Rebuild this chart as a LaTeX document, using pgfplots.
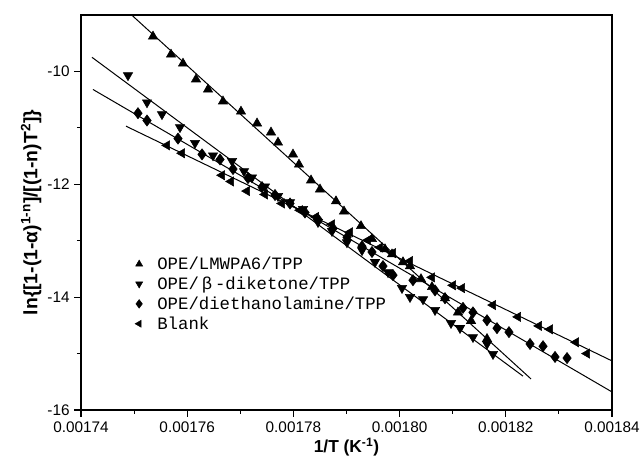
\documentclass[border=0pt]{standalone}
\usepackage{fontspec}
\setmainfont{Liberation Sans}
\newfontfamily\legfont{Liberation Mono}
\usepackage{pgfplots}
\pgfplotsset{compat=1.18}

\begin{document}
\begin{tikzpicture}
\begin{axis}[
    name=ax,
    scale only axis,
    width=398.25pt, height=296.25pt,
    xmin=0.00174, xmax=0.00184,
    ymin=-16, ymax=-9,
    xtick={0.00174,0.00176,0.00178,0.00180,0.00182,0.00184},
    ytick={-16,-14,-12,-10},
    minor x tick num=1,
    minor y tick num=1,
    scaled x ticks=false,
    xticklabel style={/pgf/number format/.cd, fixed, fixed zerofill, precision=5, assume math mode=true},
    yticklabel style={/pgf/number format/assume math mode=true},
    tick label style={font=\fontsize{11.5}{13}\selectfont},
    tick align=outside,
    xtick pos=bottom, ytick pos=left,
    major tick length=5pt, minor tick length=3pt,
    axis line style={line width=0.8pt},
    every tick/.style={black, line width=0.8pt},
    xlabel={\textbf{1/T (K\textsuperscript{-1})}},
    ylabel={\textbf{ln\{[1-(1-α)\textsuperscript{1-n}]/[(1-n)T\textsuperscript{2}]\}}},
    xlabel style={font=\fontsize{13}{15}\selectfont, at={(axis description cs:0.5,-0.094)}, anchor=center},
    ylabel style={font=\fontsize{14.5}{16}\selectfont, at={(axis description cs:-0.094,0.5)}, anchor=center},
    legend style={draw=none, fill=none, font=\legfont\fontsize{13}{14}\selectfont,
        at={(axis description cs:0.094,0.402)}, anchor=north west,
        row sep=0pt, column sep=9pt},
    legend cell align=left,
]

% fitted lines
\addplot[black, line width=0.75pt, forget plot] coordinates {(0.00174942,-8.99) (0.00182475,-15.45)};
\addplot[black, line width=0.75pt, forget plot] coordinates {(0.00174207,-9.75) (0.00182324,-15.40)};
\addplot[black, line width=0.75pt, forget plot] coordinates {(0.00174226,-10.32) (0.00184,-15.68)};
\addplot[black, line width=0.75pt, forget plot] coordinates {(0.00174847,-10.97) (0.00184,-15.13)};

% OPE/LMWPA6/TPP
\addplot[only marks, mark=triangle*, mark size=4pt, black, forget plot] coordinates {
(0.00175356,-9.38) (0.00175695,-9.70) (0.00175921,-9.86) (0.00176166,-10.14)
(0.00176392,-10.32) (0.00176674,-10.53) (0.00177013,-10.71) (0.00177315,-10.92)
(0.00177578,-11.08) (0.00177710,-11.26) (0.00177992,-11.47) (0.00178105,-11.65)
(0.00178332,-11.93) (0.00178501,-12.09) (0.00178802,-12.30) (0.00178953,-12.48)
(0.00179273,-12.74) (0.00179480,-12.97) (0.00179725,-13.15) (0.00179857,-13.24)
(0.00180064,-13.38) (0.00180196,-13.45) (0.00180403,-13.68) (0.00180610,-13.82)
(0.00180855,-14.02) (0.00181100,-14.27) (0.00181345,-14.42) (0.00181646,-14.74)
};

% OPE/beta-diketone/TPP
\addplot[only marks, mark=triangle*, mark size=4pt, mark options={rotate=180}, black, forget plot] coordinates {
(0.00174885,-10.07) (0.00175243,-10.55) (0.00175525,-10.76) (0.00175864,-10.99)
(0.00176147,-11.27) (0.00176486,-11.49) (0.00176844,-11.59) (0.00177070,-11.77)
(0.00177220,-11.88) (0.00177465,-12.04) (0.00177710,-12.21) (0.00177936,-12.32)
(0.00178181,-12.44) (0.00178463,-12.67) (0.00178727,-12.83) (0.00179009,-13.03)
(0.00179292,-13.17) (0.00179537,-13.38) (0.00179782,-13.56) (0.00180045,-13.84)
(0.00180196,-14.00) (0.00180441,-14.04) (0.00180667,-14.23) (0.00180968,-14.46)
(0.00181138,-14.55) (0.00181382,-14.71) (0.00181646,-14.83) (0.00181759,-15.01)
};

% OPE/diethanolamine/TPP
\addplot[only marks, mark=diamond*, mark size=4.2pt, black, forget plot] coordinates {
(0.00175073,-10.74) (0.00175243,-10.87) (0.00175827,-11.19) (0.00176279,-11.47)
(0.00176618,-11.56) (0.00176863,-11.73) (0.00177145,-11.89) (0.00177409,-12.05)
(0.00177654,-12.19) (0.00177936,-12.34) (0.00178218,-12.50) (0.00178463,-12.62)
(0.00178746,-12.78) (0.00179009,-12.94) (0.00179292,-13.10) (0.00179480,-13.20)
(0.00179687,-13.45) (0.00179876,-13.61) (0.00180252,-13.70) (0.00180667,-13.88)
(0.00180855,-14.02) (0.00181194,-14.19) (0.00181382,-14.27) (0.00181646,-14.41)
(0.00181834,-14.55) (0.00182060,-14.62) (0.00182456,-14.83) (0.00182701,-14.87)
(0.00182927,-15.06) (0.00183153,-15.08)
};

% Blank
\addplot[only marks, mark=triangle*, mark size=4pt, mark options={rotate=90}, black, forget plot] coordinates {
(0.00175620,-11.31) (0.00175902,-11.45) (0.00176655,-11.84) (0.00176825,-11.95)
(0.00177126,-12.12) (0.00177465,-12.18) (0.00177785,-12.34) (0.00178124,-12.46)
(0.00178426,-12.58) (0.00178727,-12.71) (0.00179066,-12.85) (0.00179405,-12.99)
(0.00179631,-13.12) (0.00179876,-13.22) (0.00180196,-13.36) (0.00180610,-13.65)
(0.00181006,-13.79) (0.00181175,-13.84) (0.00181759,-14.14) (0.00182230,-14.35)
(0.00182625,-14.51) (0.00182832,-14.57) (0.00183322,-14.80) (0.00183529,-15.00)
};

\addlegendimage{only marks, mark=triangle*, mark size=3pt, black}
\addlegendentry{OPE/LMWPA6/TPP}
\addlegendimage{only marks, mark=triangle*, mark size=3pt, mark options={rotate=180}, black}
\addlegendentry{OPE/\,β\,-diketone/TPP}
\addlegendimage{only marks, mark=diamond*, mark size=3.2pt, black}
\addlegendentry{OPE/diethanolamine/TPP}
\addlegendimage{only marks, mark=triangle*, mark size=3pt, mark options={rotate=90}, black}
\addlegendentry{Blank}
\end{axis}
\pgfresetboundingbox
\path[use as bounding box] ([xshift=-60.75pt,yshift=-41.25pt]ax.south west) rectangle ([xshift=21.75pt,yshift=11.25pt]ax.north east);
\end{tikzpicture}
\end{document}
